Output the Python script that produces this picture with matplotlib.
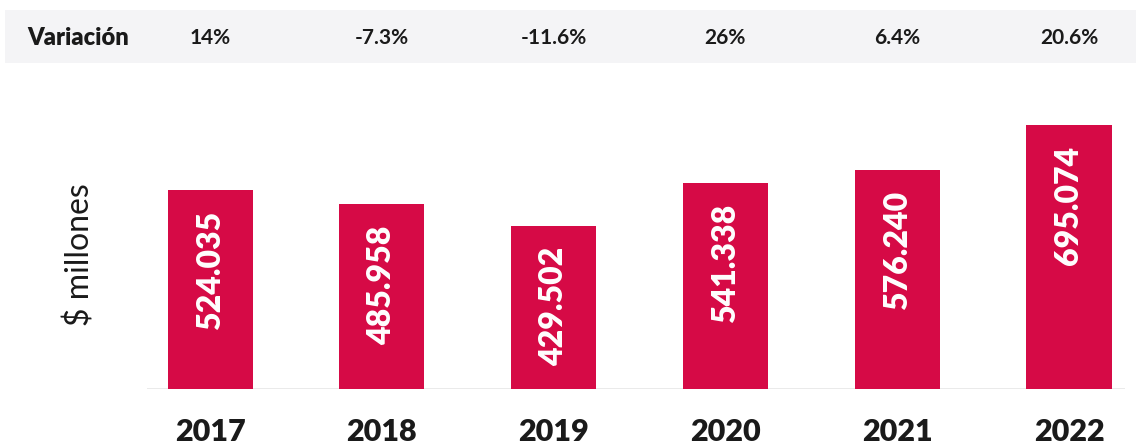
import matplotlib
matplotlib.use('Agg')
import matplotlib.pyplot as plt
from matplotlib.patches import Rectangle
from matplotlib.transforms import blended_transform_factory

# data
years = ['2017', '2018', '2019', '2020', '2021', '2022']
values = [524.035, 485.958, 429.502, 541.338, 576.240, 695.074]
value_labels = ['524.035', '485.958', '429.502', '541.338', '576.240', '695.074']
variation = ['14%', '-7.3%', '-11.6%', '26%', '6.4%', '20.6%']

BAR_COLOR = '#d60a46'
TEXT_COLOR = '#1a1a1a'

plt.rcParams['font.family'] = ['Lato', 'DejaVu Sans']

W, H = 1136, 448
fig = plt.figure(figsize=(W / 100, H / 100), dpi=100)
fig.patch.set_facecolor('white')

# top grey band
fig.patches.append(Rectangle((5 / W, 1 - 63 / H), 1 - 5 / W, 53 / H,
                             transform=fig.transFigure, facecolor='#f4f4f6',
                             edgecolor='none', zorder=-1))

ax = fig.add_axes([147 / W, 1 - 389 / H, (1125 - 147) / W, (389 - 125) / H])
x = list(range(len(years)))
ax.bar(x, values, width=0.495, color=BAR_COLOR, zorder=2)
ax.set_xlim(-0.367, 5.326)
ax.set_ylim(0, max(values))
ax.axhline(0, color='#e6e6e6', lw=1.2, zorder=1)

for s in ax.spines.values():
    s.set_visible(False)
ax.set_yticks([])
ax.set_xticks(x)
ax.set_xticklabels(years, fontsize=22, fontweight='heavy', color=TEXT_COLOR)
ax.tick_params(axis='x', length=0, pad=21)

# value labels inside bars
for xi, v, lab in zip(x, values, value_labels):
    ax.annotate(lab, (xi, v), xytext=(0, -15), textcoords='offset points',
                rotation=90, ha='center', va='top', color='white',
                fontsize=23, fontweight='heavy')

# y label
fig.text(80 / W, 1 - 255 / H, '$ millones', rotation=90, ha='center',
         va='center', fontsize=23, fontweight='normal', color=TEXT_COLOR)

# variation row
trans = blended_transform_factory(ax.transData, fig.transFigure)
fig.text(27 / W, 1 - 38 / H, 'Variación', ha='left', va='center',
         fontsize=17, fontweight='heavy', color=TEXT_COLOR)
for xi, pct in zip(x, variation):
    fig.text(xi, 1 - 38 / H, pct, transform=trans, ha='center', va='center',
             fontsize=15, fontweight='bold', color=TEXT_COLOR)

fig.savefig('out.png', dpi=100, facecolor='white')
